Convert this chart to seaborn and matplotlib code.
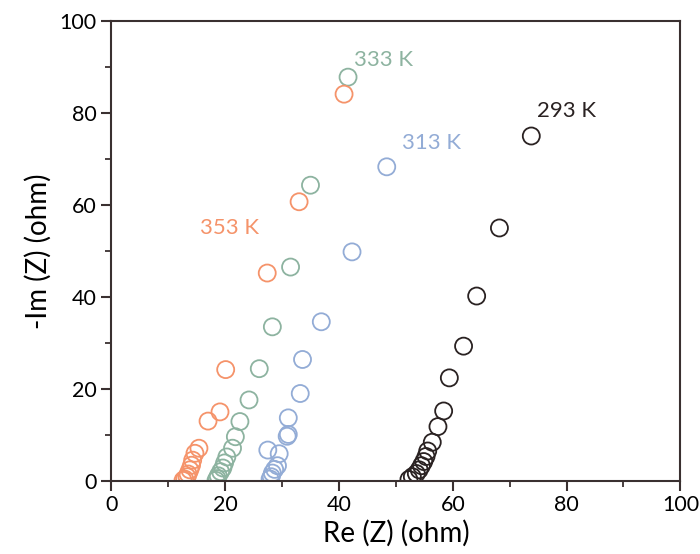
import matplotlib
matplotlib.use("Agg")
import matplotlib.pyplot as plt
import seaborn as sns
import pandas as pd
from matplotlib.ticker import MultipleLocator

# 293 K
x293 = [52.3, 52.9, 53.6, 54.1, 54.5, 54.9, 55.3, 55.6, 56.4, 57.4, 58.4, 59.4, 61.9, 64.2, 68.2, 73.8]
y293 = [0.3, 0.9, 1.6, 2.4, 3.3, 4.2, 5.3, 6.5, 8.4, 11.8, 15.2, 22.4, 29.3, 40.2, 55.0, 75.0]
# 313 K
x313 = [27.9, 28.1, 28.3, 28.7, 29.2, 29.5, 27.5, 30.9, 31.1, 31.1, 33.2, 33.6, 36.9, 42.3, 48.4]
y313 = [0.4, 0.9, 1.7, 2.5, 3.3, 5.9, 6.7, 9.7, 10.1, 13.7, 19.0, 26.4, 34.6, 49.8, 68.3]
# 333 K
x333 = [18.4, 18.6, 18.8, 19.2, 19.6, 19.9, 20.3, 21.3, 21.8, 22.6, 24.2, 26.0, 28.3, 31.5, 35.0, 41.6]
y333 = [0.1, 0.5, 1.1, 2.0, 2.8, 3.9, 5.2, 7.1, 9.6, 12.9, 17.6, 24.4, 33.5, 46.5, 64.3, 87.8]
# 353 K
x353 = [12.6, 12.9, 13.3, 13.5, 13.8, 14.1, 14.3, 14.7, 15.4, 17.0, 19.1, 20.1, 27.4, 33.0, 40.9]
y353 = [0.1, 0.4, 0.9, 1.5, 2.4, 3.4, 4.5, 6.0, 7.1, 13.0, 15.0, 24.2, 45.2, 60.7, 84.1]

labels = ["293 K", "313 K", "333 K", "353 K"]
colors = ["#2a2222", "#93acd6", "#8db3a0", "#f5936a"]
label_pos = [(79.9, 80.4), (56.2, 73.5), (47.9, 91.5), (20.8, 55.0)]

sns.set_theme(style="white")
plt.rcParams["font.family"] = ["Lato", "DejaVu Sans"]

fig = plt.figure(figsize=(7, 5.54), dpi=100)
ax = fig.add_axes([0.159, 0.132, 0.813, 0.830])

series = [(x293, y293), (x313, y313), (x333, y333), (x353, y353)]
for (xs, ys), c in zip(series, colors):
    df = pd.DataFrame({"x": xs, "y": ys})
    sns.scatterplot(data=df, x="x", y="y", ax=ax, marker="o", s=150, legend=False)
    coll = ax.collections[-1]
    coll.set_facecolor("none")
    coll.set_edgecolor(c)
    coll.set_linewidth(1.3)

for lab, (tx, ty), c in zip(labels, label_pos, colors):
    ax.text(tx, ty, lab, color=c, fontsize=16, ha="center", va="center")

ax.set_xlim(0, 100)
ax.set_ylim(0, 100)
ax.xaxis.set_major_locator(MultipleLocator(20))
ax.xaxis.set_minor_locator(MultipleLocator(10))
ax.yaxis.set_major_locator(MultipleLocator(20))
ax.yaxis.set_minor_locator(MultipleLocator(10))
ax.tick_params(axis="both", which="major", direction="out", length=7, width=1.5,
               color="#3a3030", labelsize=15.5, bottom=True, left=True, top=False, right=False,
               labelcolor="black")
ax.tick_params(axis="both", which="minor", direction="out", length=4, width=1.3,
               color="#3a3030", bottom=True, left=True, top=False, right=False)
for sp in ax.spines.values():
    sp.set_color("#3a3030")
    sp.set_linewidth(1.5)

ax.set_xlabel("Re (Z) (ohm)", fontsize=20, color="black", labelpad=3)
ax.set_ylabel("-Im (Z) (ohm)", fontsize=20, color="black", labelpad=6)

fig.savefig("out.png", dpi=100)
